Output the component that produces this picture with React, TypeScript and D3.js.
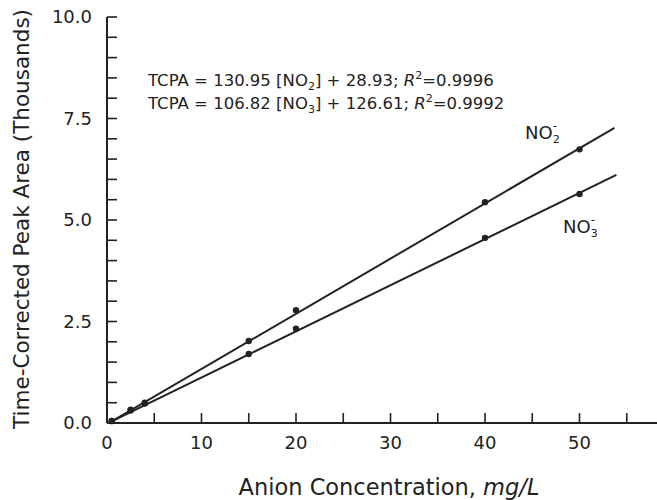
import React from "react";
import * as d3 from "d3";

const concentrations = [0.5, 2.5, 4, 15, 20, 40, 50];
const nitriteArea = [0.05, 0.33, 0.5, 2.02, 2.78, 5.44, 6.74];
const nitrateArea = [0.05, 0.31, 0.48, 1.7, 2.32, 4.56, 5.64];
const nitriteFit = [
  [0.5, 0.04],
  [53.7, 7.27],
];
const nitrateFit = [
  [0.5, 0.04],
  [53.9, 6.11],
];
const yTicks = [0, 2.5, 5, 7.5, 10];
const yMinor = d3.range(0, 10.01, 0.5);
const xTicks = [0, 10, 20, 30, 40, 50];
const xMinor = d3.range(5, 56, 5);

const W = 657;
const H = 500;
const FONT = "'DejaVu Sans', sans-serif";
const INK = "#222";

export default function App() {
  const x = d3.scaleLinear().domain([0, 58.2]).range([107, 657]);
  const y = d3.scaleLinear().domain([0, 10]).range([423, 17]);
  const line = d3
    .line<number[]>()
    .x((d) => x(d[0]))
    .y((d) => y(d[1]));

  return (
    <svg
      width={W}
      height={H}
      style={{ position: "absolute", left: 0, top: 0, background: "#fff" }}
      fontFamily={FONT}
    >
      <rect width={W} height={H} fill="#fff" />
      {/* axes */}
      <line x1={x(0)} x2={x(0)} y1={y(10)} y2={y(0)} stroke={INK} strokeWidth={2} />
      <line x1={x(0)} x2={W} y1={y(0)} y2={y(0)} stroke={INK} strokeWidth={2} />
      {yMinor.map((v) => (
        <line key={"ym" + v} x1={x(0)} x2={x(0) + 10} y1={y(v)} y2={y(v)} stroke={INK} strokeWidth={1.6} />
      ))}
      {xMinor.map((v) => (
        <line key={"xm" + v} x1={x(v)} x2={x(v)} y1={y(0)} y2={y(0) - 10} stroke={INK} strokeWidth={1.6} />
      ))}
      {yTicks.map((v) => (
        <text key={"yt" + v} x={92} y={y(v)} dy="0.36em" textAnchor="end" fontSize={18} fill={INK}>
          {d3.format(".1f")(v)}
        </text>
      ))}
      {xTicks.map((v) => (
        <text key={"xt" + v} x={x(v)} y={443} dy="0.36em" textAnchor="middle" fontSize={18} fill={INK}>
          {v}
        </text>
      ))}
      <text x={389} y={487} dy="0.36em" textAnchor="middle" fontSize={22.5} fill={INK}>
        Anion Concentration, <tspan fontStyle="italic">mg/L</tspan>
      </text>
      <text
        transform={`translate(21,219) rotate(-90)`}
        dy="0.36em"
        textAnchor="middle"
        fontSize={21.5}
        fill={INK}
      >
        Time-Corrected Peak Area (Thousands)
      </text>

      {/* fit lines */}
      <path d={line(nitriteFit) || ""} fill="none" stroke={INK} strokeWidth={2} />
      <path d={line(nitrateFit) || ""} fill="none" stroke={INK} strokeWidth={2} />
      {concentrations.map((c, i) => (
        <circle key={"n2" + i} cx={x(c)} cy={y(nitriteArea[i])} r={3.2} fill={INK} />
      ))}
      {concentrations.map((c, i) => (
        <circle key={"n3" + i} cx={x(c)} cy={y(nitrateArea[i])} r={3.2} fill={INK} />
      ))}

      {/* equations */}
      <text x={148} y={80} dy="0.36em" fontSize={16.5} fill={INK}>
        TCPA = 130.95 [NO<tspan fontSize={11} dy={4}>2</tspan>
        <tspan dy={-4}>] + 28.93; </tspan>
        <tspan fontStyle="italic">R</tspan>
        <tspan fontSize={11} dy={-7}>2</tspan>
        <tspan dy={7}>=0.9996</tspan>
      </text>
      <text x={148} y={103} dy="0.36em" fontSize={16.5} fill={INK}>
        TCPA = 106.82 [NO<tspan fontSize={11} dy={4}>3</tspan>
        <tspan dy={-4}>] + 126.61; </tspan>
        <tspan fontStyle="italic">R</tspan>
        <tspan fontSize={11} dy={-7}>2</tspan>
        <tspan dy={7}>=0.9992</tspan>
      </text>

      {/* series labels */}
      <text x={525} y={133} dy="0.36em" fontSize={18} fill={INK}>
        NO<tspan fontSize={11} dy={4}>2</tspan>
        <tspan fontSize={12} dx={-7} dy={-13}>-</tspan>
      </text>
      <text x={563} y={227} dy="0.36em" fontSize={18} fill={INK}>
        NO<tspan fontSize={11} dy={4}>3</tspan>
        <tspan fontSize={12} dx={-7} dy={-13}>-</tspan>
      </text>
    </svg>
  );
}
